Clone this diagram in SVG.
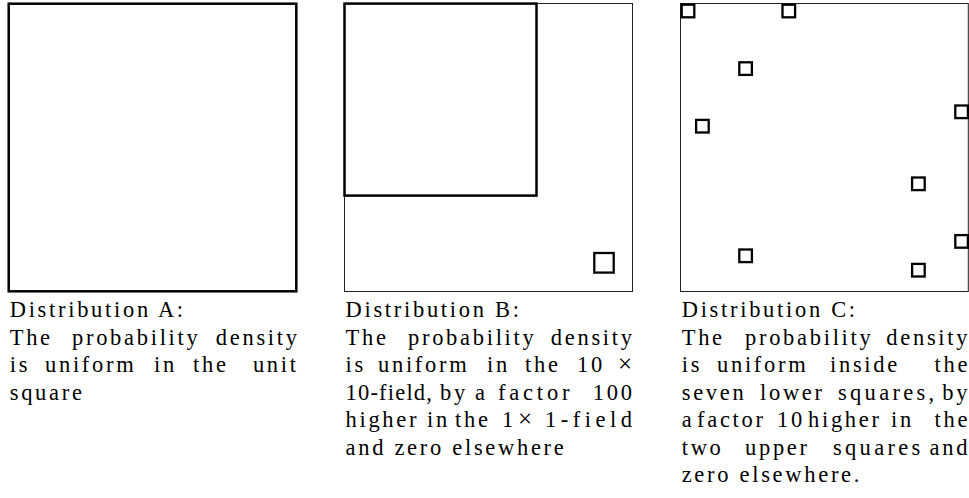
<svg xmlns="http://www.w3.org/2000/svg" width="969" height="498" viewBox="0 0 969 498">
<style>
.thick{fill:none;stroke:#000;stroke-width:2.5}
.thin{fill:none;stroke:#222;stroke-width:1}
.sq{fill:none;stroke:#000;stroke-width:2.3}
.cap{font-family:'Liberation Serif','Times New Roman',serif;font-size:22.5px;letter-spacing:2.7px;fill:#000}
.j{word-spacing:-8.3px}
.e{text-anchor:end}
.z{letter-spacing:0}
.x{font-size:25px}
</style>
<rect x="0" y="0" width="969" height="498" fill="#fff"/>
<g id="dist-a">
<rect class="thick" x="8.7" y="3.7" width="287.6" height="287.6"/>
<text class="cap" y="317"><tspan x="9.7">Distribution A:</tspan></text>
<text class="cap j" y="344.5"><tspan x="9.7">The </tspan><tspan x="72">probability </tspan><tspan class="e" x="297">densit<tspan class="z">y</tspan></tspan></text>
<text class="cap j" y="372"><tspan x="9.7">is </tspan><tspan x="45">uniform </tspan><tspan x="154">in </tspan><tspan x="193">the </tspan><tspan class="e" x="296">uni<tspan class="z">t</tspan></tspan></text>
<text class="cap" y="399.5"><tspan x="9.7">square</tspan></text>
</g>
<g id="dist-b">
<rect class="thin" x="344.5" y="3.5" width="288" height="288"/>
<rect class="thick" x="344.5" y="3.6" width="192" height="192"/>
<rect class="sq" x="594.3" y="253" width="19.4" height="19.6"/>
<text class="cap" y="317"><tspan x="345.5">Distribution B:</tspan></text>
<text class="cap j" y="344.5"><tspan x="345.5">The </tspan><tspan x="408">probability </tspan><tspan class="e" x="632">densit<tspan class="z">y</tspan></tspan></text>
<text class="cap j" y="372"><tspan x="345.5">is </tspan><tspan x="378">uniform </tspan><tspan x="487">in </tspan><tspan x="525">the </tspan><tspan x="577">10 </tspan><tspan class="e z x" x="632">×</tspan></text>
<text class="cap j" y="399.5"><tspan x="345.5" style="letter-spacing:1.2px">10-field, </tspan><tspan x="440">by </tspan><tspan x="475">a </tspan><tspan x="498" style="letter-spacing:3.8px">factor </tspan><tspan class="e" x="632">10<tspan class="z">0</tspan></tspan></text>
<text class="cap j" y="427"><tspan x="345.5">higher </tspan><tspan x="427">in </tspan><tspan x="455">the </tspan><tspan x="502">1 </tspan><tspan class="x" x="518">× </tspan><tspan class="e" x="632" style="letter-spacing:4.5px">1-fiel<tspan class="z">d</tspan></tspan></text>
<text class="cap" y="454.5"><tspan x="345.5">and zero elsewhere</tspan></text>
</g>
<g id="dist-c">
<rect class="thin" x="680.5" y="3.5" width="287.8" height="288"/>
<rect class="sq" x="681.7" y="4.7" width="12.6" height="12.6"/>
<rect class="sq" x="782.5" y="4.7" width="12.6" height="12.6"/>
<rect class="sq" x="739.3" y="62.3" width="12.6" height="12.6"/>
<rect class="sq" x="955.3" y="105.5" width="12.6" height="12.6"/>
<rect class="sq" x="696.1" y="119.9" width="12.6" height="12.6"/>
<rect class="sq" x="912.1" y="177.5" width="12.6" height="12.6"/>
<rect class="sq" x="955.3" y="235.1" width="12.6" height="12.6"/>
<rect class="sq" x="739.3" y="249.5" width="12.6" height="12.6"/>
<rect class="sq" x="912.1" y="263.9" width="12.6" height="12.6"/>
<text class="cap" y="317"><tspan x="681.7">Distribution C:</tspan></text>
<text class="cap j" y="344.5"><tspan x="681.7">The </tspan><tspan x="745">probability </tspan><tspan class="e" x="967.5">densit<tspan class="z">y</tspan></tspan></text>
<text class="cap j" y="372"><tspan x="681.7">is </tspan><tspan x="717">uniform </tspan><tspan x="830">inside </tspan><tspan class="e" x="967.5">th<tspan class="z">e</tspan></tspan></text>
<text class="cap j" y="399.5"><tspan x="681.7">seven </tspan><tspan x="760">lower </tspan><tspan x="838" style="letter-spacing:3.3px">squares, </tspan><tspan class="e" x="967.5">b<tspan class="z">y</tspan></tspan></text>
<text class="cap j" y="427"><tspan x="681.7">a </tspan><tspan x="697">factor </tspan><tspan x="777">10 </tspan><tspan x="808">higher </tspan><tspan x="891">in </tspan><tspan class="e" x="967.5">th<tspan class="z">e</tspan></tspan></text>
<text class="cap j" y="454.5"><tspan x="681.7">two </tspan><tspan x="745">upper </tspan><tspan x="833" style="letter-spacing:3.3px">squares </tspan><tspan class="e" x="967.5">an<tspan class="z">d</tspan></tspan></text>
<text class="cap" y="482"><tspan x="681.7">zero elsewhere.</tspan></text>
</g>
</svg>
